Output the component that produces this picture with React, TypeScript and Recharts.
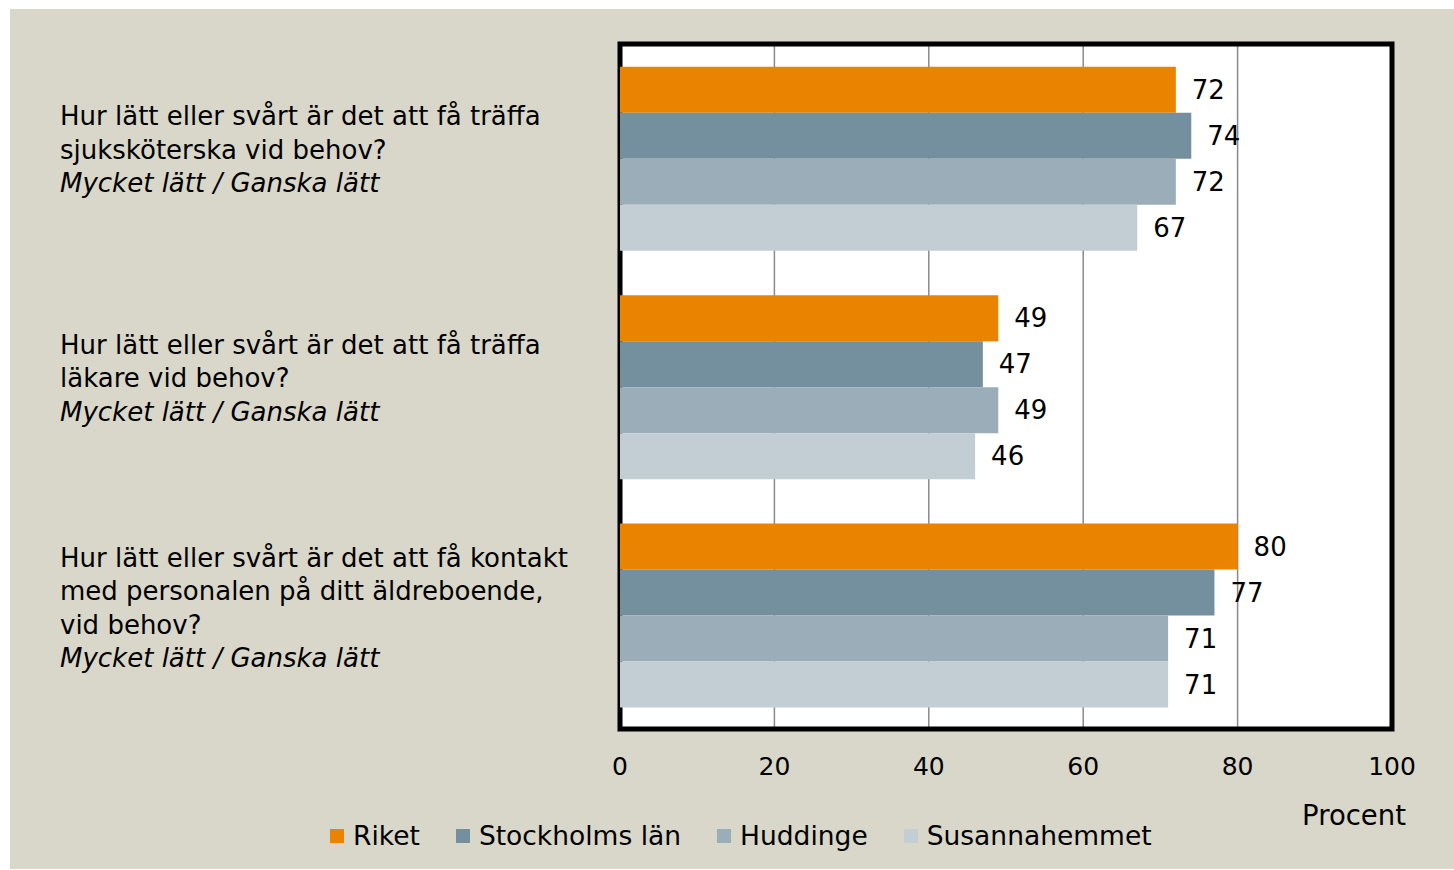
import {
  BarChart,
  Bar,
  XAxis,
  YAxis,
  CartesianGrid,
  LabelList,
  ReferenceArea,
} from "recharts";

// Questions (each entry is a list of lines), answers shown in italics below
const questionLines = [
  ["Hur lätt eller svårt är det att få träffa", "sjuksköterska vid behov?"],
  ["Hur lätt eller svårt är det att få träffa", "läkare vid behov?"],
  [
    "Hur lätt eller svårt är det att få kontakt",
    "med personalen på ditt äldreboende,",
    "vid behov?",
  ],
];
const answerLine = "Mycket lätt / Ganska lätt";

const riket = [72, 49, 80];
const stockholmsLan = [74, 47, 77];
const huddinge = [72, 49, 71];
const susannahemmet = [67, 46, 71];

const xTicks = [0, 20, 40, 60, 80, 100];

const series = [
  { key: "riket", name: "Riket", color: "#EA8400", values: riket },
  { key: "sthlm", name: "Stockholms län", color: "#74909E", values: stockholmsLan },
  { key: "huddinge", name: "Huddinge", color: "#9AADB8", values: huddinge },
  { key: "susanna", name: "Susannahemmet", color: "#C3CDD4", values: susannahemmet },
];

const data = questionLines.map((lines, i) => {
  const row: Record<string, any> = { id: String(i), lines };
  series.forEach((s) => (row[s.key] = s.values[i]));
  return row;
});

const FONT = "'DejaVu Sans', sans-serif";
const FONT_SIZE = 26;
const LINE_H = 33.5;

function QuestionTick({ y, payload }: any) {
  const lines: string[] = data[Number(payload.value)].lines;
  const n = lines.length + 1;
  const first = y - 33 - (n - 3) * 15;
  return (
    <g>
      <text x={50} y={first} fontFamily={FONT} fontSize={FONT_SIZE} fill="#000">
        {lines.map((l, i) => (
          <tspan key={i} x={50} y={first + i * LINE_H}>
            {l}
          </tspan>
        ))}
        <tspan x={50} y={first + lines.length * LINE_H} fontStyle="italic">
          {answerLine}
        </tspan>
      </text>
    </g>
  );
}

function ValueTick({ x, y, payload }: any) {
  return (
    <text x={x} y={y + 46} textAnchor="middle" fontFamily={FONT} fontSize={25} fill="#000">
      {payload.value}
    </text>
  );
}

export default function App() {
  return (
    <div
      style={{
        position: "absolute",
        left: 10,
        top: 9,
        width: 1444,
        height: 860,
        background: "#D9D7CA",
        fontFamily: FONT,
      }}
    >
      <BarChart
        width={1444}
        height={860}
        data={data}
        layout="vertical"
        margin={{ top: 35, right: 62, bottom: 90, left: 0 }}
        barCategoryGap="10%"
        barGap={0}
      >
        <CartesianGrid
          horizontal={false}
          stroke="#8a8a8a"
          strokeWidth={1.5}
          fill="#fff"
          fillOpacity={1}
        />
        <XAxis
          type="number"
          domain={[0, 100]}
          ticks={xTicks}
          axisLine={false}
          tickLine={false}
          tickSize={0}
          tickMargin={0}
          height={50}
          tick={<ValueTick />}
          label={{
            value: "Procent",
            content: (p: any) => {
              const vb = p.viewBox;
              return (
                <text
                  x={vb.x + vb.width + 14}
                  y={vb.y + 96}
                  textAnchor="end"
                  fontFamily={FONT}
                  fontSize={27.5}
                  fill="#000"
                >
                  Procent
                </text>
              );
            },
          }}
        />
        <YAxis
          type="category"
          dataKey="id"
          width={610}
          axisLine={false}
          tickLine={false}
          tick={<QuestionTick />}
        />
        <ReferenceArea
          x1={0}
          x2={100}
          fill="none"
          stroke="#000"
          strokeWidth={5}
          ifOverflow="visible"
        />
        {series.map((s) => (
          <Bar key={s.key} dataKey={s.key} name={s.name} fill={s.color} isAnimationActive={false}>
            <LabelList
              dataKey={s.key}
              position="right"
              offset={16}
              fill="#000"
              fontFamily={FONT}
              fontSize={FONT_SIZE}
            />
          </Bar>
        ))}
      </BarChart>
      <div
        style={{
          position: "absolute",
          left: 320,
          top: 810,
          display: "flex",
          alignItems: "center",
          fontSize: 26.5,
          color: "#000",
          lineHeight: "34px",
        }}
      >
        {series.map((s) => (
          <div key={s.key} style={{ display: "flex", alignItems: "center", marginRight: 36 }}>
            <span
              style={{ width: 14, height: 14, background: s.color, marginRight: 9, display: "inline-block" }}
            />
            <span>{s.name}</span>
          </div>
        ))}
      </div>
    </div>
  );
}
